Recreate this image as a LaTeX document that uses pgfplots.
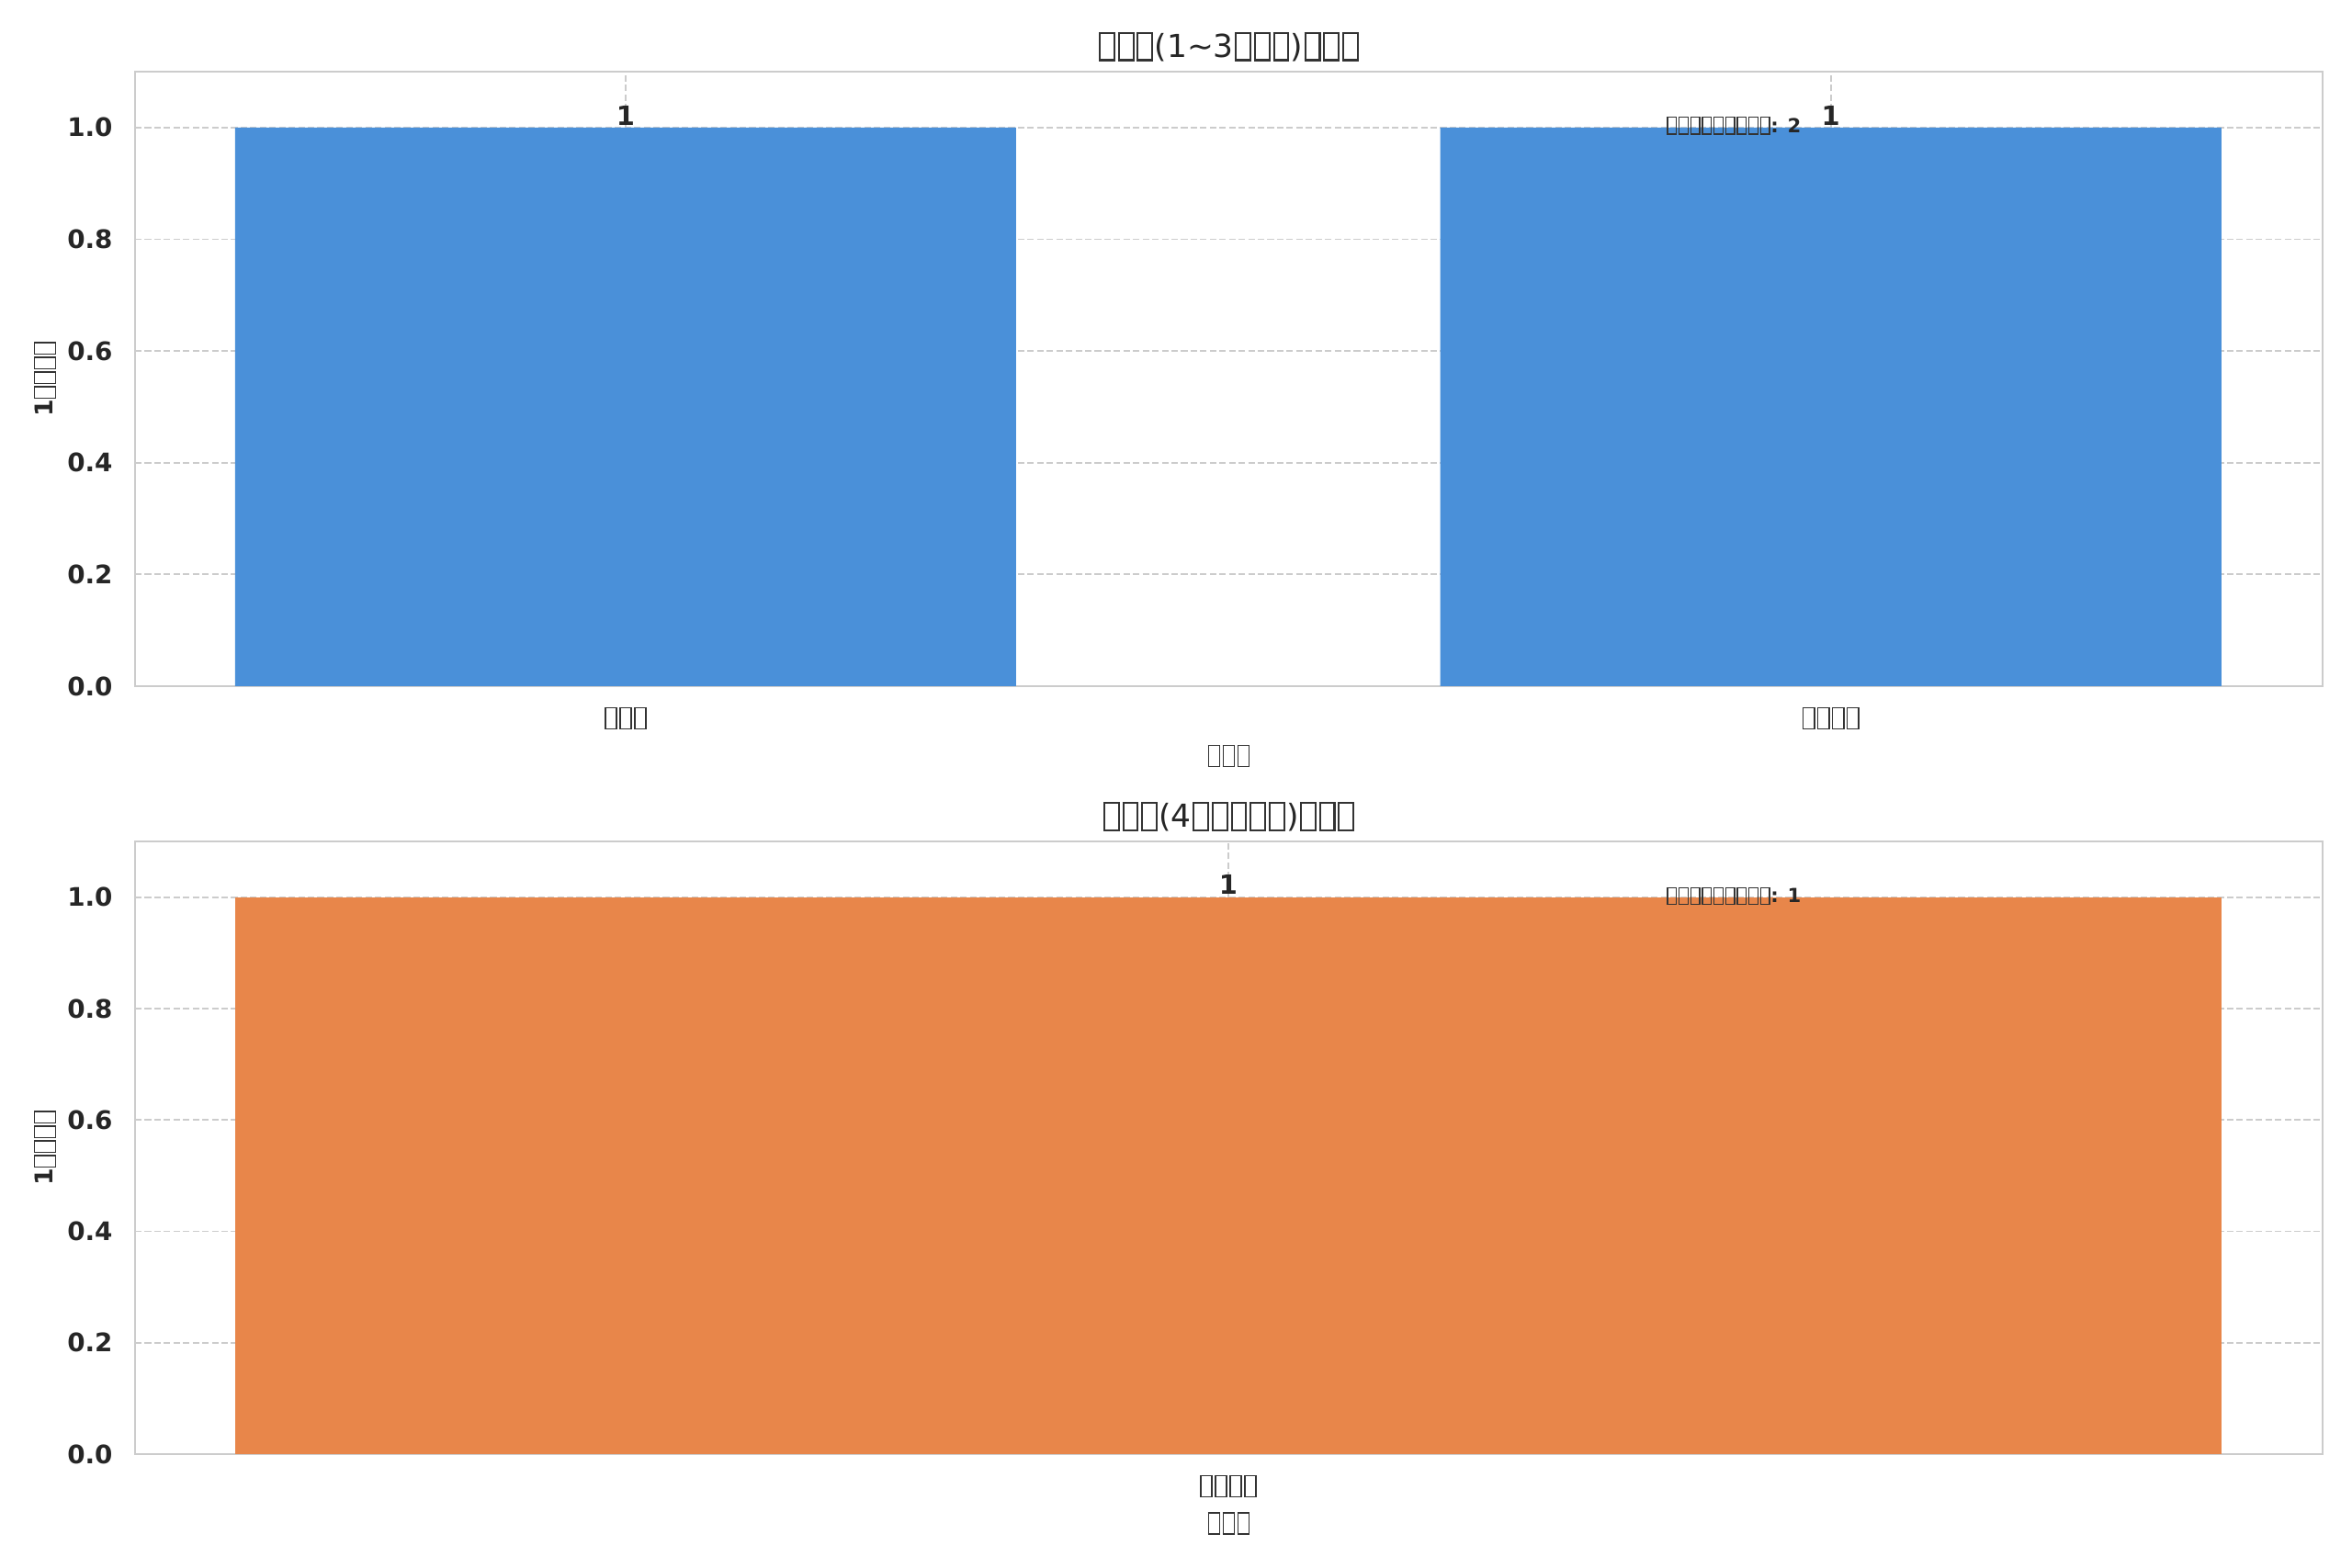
\documentclass[border=0pt]{standalone}
\usepackage{fontspec}
\setmainfont{DejaVu Sans}
\usepackage{pgfplots}
\pgfplotsset{compat=1.18}
\definecolor{barblue}{HTML}{4A90D9}
\definecolor{barorange}{HTML}{E8864A}
\definecolor{txt}{HTML}{262626}
\definecolor{frame}{HTML}{CCCCCC}
\definecolor{tofu}{HTML}{333333}
% missing-glyph box, as the reference shows it
\newcommand\tb{\kern0.04em\begingroup\fboxsep=0pt\fboxrule=0.06em\color{tofu}\raisebox{-0.06em}{\fbox{\rule{0pt}{0.8em}\hspace{0.4em}}}\endgroup\kern0.04em}
\newcommand\fs[1]{\fontsize{#1}{#1}\selectfont}
\pgfplotsset{
 myaxis/.style={
  scale only axis, width=1071.45pt,
  ymin=0, ymax=1.1,
  ytick={0,0.2,0.4,0.6,0.8,1.0},
  /pgf/number format/assume math mode=true,
  yticklabel style={/pgf/number format/fixed, /pgf/number format/fixed zerofill, /pgf/number format/precision=1, font=\fs{12.5}\bfseries, text=txt, anchor=east, inner sep=0pt, xshift=-10.8pt},
  xticklabel style={font=\fs{12}, text=txt, anchor=center, inner sep=0pt, yshift=-15.75pt},
  major tick length=0pt,
  axis line style={draw=frame, line width=0.9pt},
  grid=major,
  major grid style={draw=frame, line width=0.8pt, dash pattern=on 3.2pt off 1.5pt},
  every axis title/.style={at={(0.5,1)}, anchor=base, yshift=7pt, font=\fs{15.5}, text=txt},
  every axis x label/.style={at={(axis description cs:0.5,-0.1136)}, anchor=center, font=\fs{12}, text=txt},
  every axis y label/.style={at={(axis description cs:-0.0412,0.5)}, rotate=90, anchor=center, font=\fs{12}\bfseries, text=txt},
  ybar,
  nodes near coords,
  every node near coord/.style={anchor=south, inner sep=0pt, yshift=1pt, font=\fs{13}\bfseries, text=txt},
  xtick=data,
 }
}
\begin{document}
\begin{tikzpicture}
\path (0,0) rectangle (1152pt,768.15pt);
\begin{axis}[myaxis,
  at={(66.15pt,432pt)}, anchor=south west, height=301.05pt,
  xmin=-0.407, xmax=1.408, bar width=0.648,
  xticklabels={\tb\tb\tb,\tb\tb\tb\tb},
  title={\tb\tb\tb(1\textasciitilde3\tb\tb\tb)\tb\tb\tb},
  xlabel={\tb\tb\tb},
  ylabel={1\tb\tb\tb\tb}]
\addplot[fill=barblue, draw=none] coordinates {(0,1) (1,1)};
\node[anchor=west, inner sep=0pt, font=\fs{9.5}, text=txt] at (rel axis cs:0.6997,0.912) {\tb\tb\tb\tb\tb\tb\tb\tb\tb\textbf{: 2}};
\end{axis}
\begin{axis}[myaxis,
  at={(66.15pt,55.8pt)}, anchor=south west, height=300.15pt,
  xmin=-0.5504, xmax=0.5509, bar width=1,
  xticklabels={\tb\tb\tb\tb},
  title={\tb\tb\tb(4\tb\tb\tb\tb\tb)\tb\tb\tb},
  xlabel={\tb\tb\tb},
  ylabel={1\tb\tb\tb\tb}]
\addplot[fill=barorange, draw=none] coordinates {(0,1)};
\node[anchor=west, inner sep=0pt, font=\fs{9.5}, text=txt] at (rel axis cs:0.6997,0.911) {\tb\tb\tb\tb\tb\tb\tb\tb\tb\textbf{: 1}};
\end{axis}
\end{tikzpicture}
\end{document}
